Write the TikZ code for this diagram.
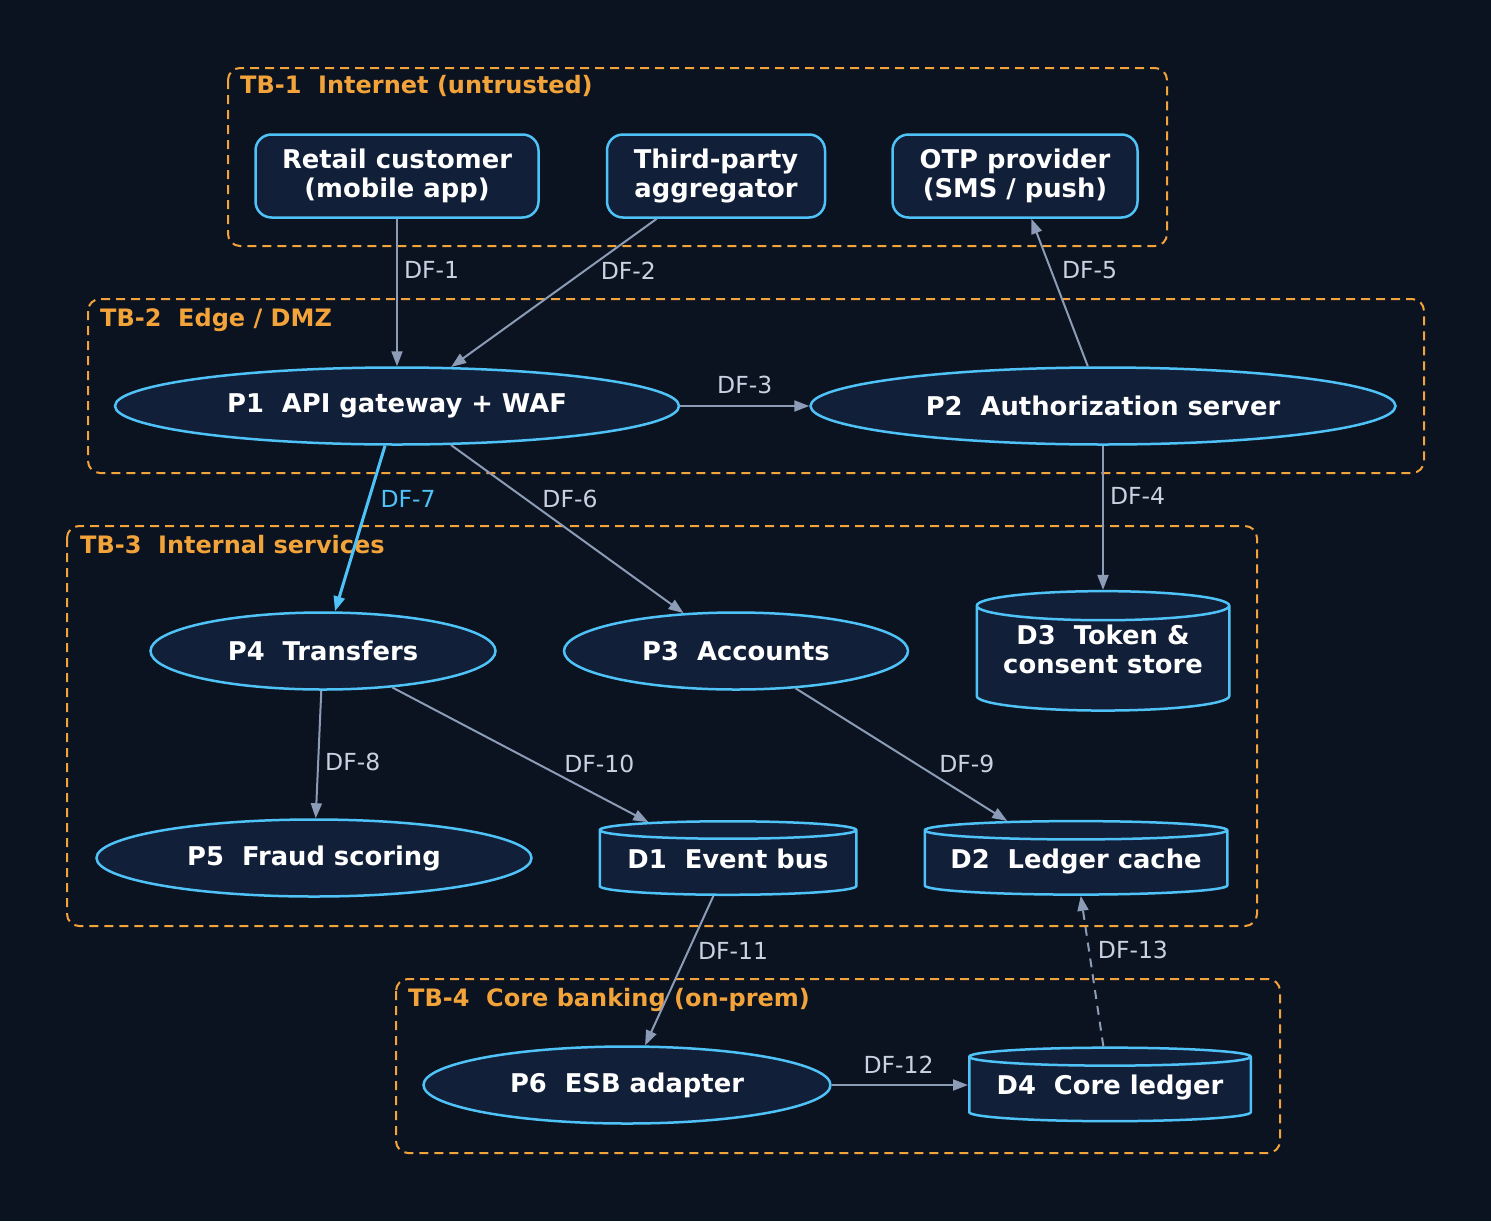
\documentclass[tikz,border=0pt]{standalone}
\usepackage{fontspec}
\setmainfont{DejaVu Sans}
\usetikzlibrary{arrows.meta,shapes.geometric}
\definecolor{fond}{HTML}{0B1220}
\definecolor{remplissage}{HTML}{111F38}
\definecolor{bleu}{HTML}{4FC3F7}
\definecolor{ambre}{HTML}{F2A33A}
\definecolor{gris}{HTML}{8C9CB6}
\definecolor{texte}{HTML}{C8D2E0}
\begin{document}
\begin{tikzpicture}[x=1pt,y=-1pt]
	\tikzstyle{fleche}=[->,>={Triangle[length=15pt,width=11pt]},line width=2pt,draw=gris]
	\tikzstyle{boite}=[draw=bleu,fill=remplissage,line width=2.5pt,text=white,font=\bfseries\fontsize{25.8}{29}\selectfont,align=center]
	\tikzstyle{acteur}=[boite,rectangle,rounded corners=16pt,minimum height=83pt]
	\tikzstyle{processus}=[boite,ellipse,inner sep=0pt,minimum height=77pt]
	\tikzstyle{stockage}=[boite,cylinder,shape border rotate=90,aspect=0.08,minimum height=73.5pt,text height=20pt,text depth=12pt]
	\tikzstyle{zone}=[draw=ambre,line width=2pt,dash pattern=on 9pt off 6pt,rounded corners=12pt]
	\tikzstyle{titre}=[anchor=base west,inner sep=0pt,text=ambre,font=\bfseries\fontsize{24}{28}\selectfont]
	\tikzstyle{etiquette}=[anchor=west,inner sep=0pt,text=texte,font=\fontsize{23.5}{28}\selectfont]
	
	\def\Largeur{1491}
	\def\Hauteur{1221}
	
	\useasboundingbox (0,0) rectangle (\Largeur,\Hauteur);
	\fill[fond] (0,0) rectangle (\Largeur,\Hauteur);
	
	% zones de confiance
	\draw[zone] (228,68) rectangle (1167,246);
	\draw[zone] (88,299) rectangle (1424,473);
	\draw[zone] (67,526) rectangle (1257,926);
	\draw[zone] (396,979) rectangle (1280,1153);
	\node[titre] (T1) at (240,93) {TB-1\ \ Internet (untrusted)};
	\node[titre] (T2) at (100,326) {TB-2\ \ Edge / DMZ};
	\node[titre] (T3) at (80,553) {TB-3\ \ Internal services};
	\node[titre] (T4) at (408,1006) {TB-4\ \ Core banking (on-prem)};
	
	% noeuds
	\node[acteur,minimum width=283pt] (Client) at (397,176) {Retail customer\\(mobile app)};
	\node[acteur,minimum width=218pt] (Agregateur) at (716,176) {Third-party\\aggregator};
	\node[acteur,minimum width=245pt] (OTP) at (1015,176) {OTP provider\\(SMS / push)};
	\node[processus,minimum width=564pt] (P1) at (397,406) {P1\ \ API gateway + WAF};
	\node[processus,minimum width=585pt] (P2) at (1103,406) {P2\ \ Authorization server};
	\node[processus,minimum width=345pt] (P4) at (323,651) {P4\ \ Transfers};
	\node[processus,minimum width=344pt] (P3) at (736,651) {P3\ \ Accounts};
	\node[stockage,aspect=0.141,minimum width=252.5pt,minimum height=114.5pt,text height=48.6pt,text depth=22.6pt] (D3) at (1103,660.4) {D3\ \ Token \&\\consent store};
	\node[processus,minimum width=435pt] (P5) at (314,858) {P5\ \ Fraud scoring};
	\node[stockage,aspect=0.084,minimum width=256.5pt] (D1) at (728,864) {D1\ \ Event bus};
	\node[stockage,aspect=0.071,minimum width=302.5pt] (D2) at (1076,864) {D2\ \ Ledger cache};
	\node[processus,minimum width=407pt] (P6) at (627,1085) {P6\ \ ESB adapter};
	\node[stockage,aspect=0.077,minimum width=281.5pt] (D4) at (1110,1090.5) {D4\ \ Core ledger};
	
	% flux
	\draw[fleche] (Client)--(P1) node[etiquette,pos=0.35,xshift=6pt] {DF-1};
	\draw[fleche] (Agregateur)--(P1) node[etiquette,pos=0.35,xshift=15pt] {DF-2};
	\draw[fleche] (P1)--(P2) node[etiquette,anchor=south,pos=0.5,yshift=11pt] {DF-3};
	\draw[fleche] (P2)--(D3) node[etiquette,pos=0.35,xshift=6pt] {DF-4};
	\draw[fleche] (P2)--(OTP) node[etiquette,pos=0.65,xshift=10pt] {DF-5};
	\draw[fleche] (P1)--(P3) node[etiquette,pos=0.32,xshift=16pt] {DF-6};
	\draw[fleche,draw=bleu,line width=3pt] (P1)--(P4) node[etiquette,text=bleu,pos=0.32,xshift=10pt] {DF-7};
	\draw[fleche] (P4)--(P5) node[etiquette,pos=0.56,xshift=6pt] {DF-8};
	\draw[fleche] (P3)--(D2) node[etiquette,pos=0.57,xshift=22pt] {DF-9};
	\draw[fleche] (P4)--(D1) node[etiquette,pos=0.57,xshift=25pt] {DF-10};
	\draw[fleche] (D1)--(P6) node[etiquette,pos=0.37,xshift=9pt] {DF-11};
	\draw[fleche] (P6.east)--(P6.east -| D4.west) node[etiquette,anchor=south,pos=0.49,yshift=11pt] {DF-12};
	\draw[fleche,dash pattern=on 9pt off 7pt] (D4)--(D2) node[etiquette,pos=0.64,xshift=8pt] {DF-13};
\end{tikzpicture}
\end{document}
